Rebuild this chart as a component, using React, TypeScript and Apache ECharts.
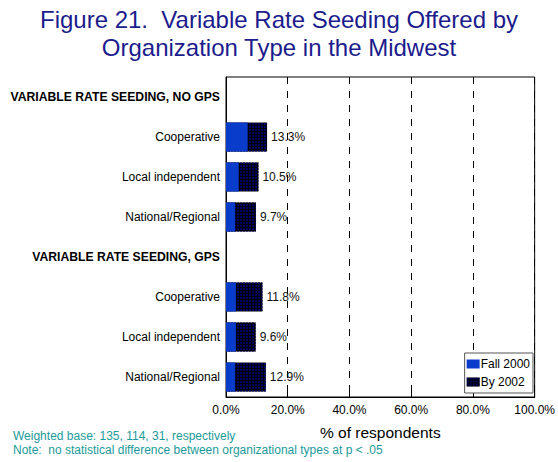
import React, { useEffect, useRef } from "react";
import * as echarts from "echarts";

const categories = [
  "VARIABLE RATE SEEDING, NO GPS",
  "Cooperative",
  "Local independent",
  "National/Regional",
  "VARIABLE RATE SEEDING, GPS",
  "Cooperative ",
  "Local independent ",
  "National/Regional ",
];
const headerRows = [0, 4];
const fall2000 = [null, 7.0, 4.1, 2.9, null, 3.2, 3.2, 2.9];
const by2002 = [null, 13.3, 10.5, 9.7, null, 11.8, 9.6, 12.9];
const xTicks = [0, 20, 40, 60, 80, 100];

const FONT = "'Liberation Sans', Arial, Helvetica, sans-serif";

export default function App() {
  const ref = useRef<HTMLDivElement>(null);
  useEffect(() => {
    document.body.style.margin = "0";
    const chart = echarts.init(ref.current!, null, { renderer: "svg" });
    chart.setOption({
      animation: false,
      textStyle: { fontFamily: FONT },
      title: {
        text: "Figure 21.  Variable Rate Seeding Offered by\nOrganization Type in the Midwest",
        left: "center",
        top: 0,
        textStyle: {
          fontFamily: FONT,
          fontSize: 24,
          fontWeight: "normal",
          color: "#1c1c8c",
          lineHeight: 28,
        },
      },
      legend: {
        data: ["Fall 2000", "By 2002"],
        orient: "vertical",
        right: 25,
        bottom: 69,
        backgroundColor: "#ffffff",
        borderColor: "#555",
        borderWidth: 1,
        borderRadius: 0,
        padding: [5, 3, 5, 2],
        itemWidth: 13,
        itemHeight: 9,
        itemGap: 6,
        icon: "rect",
        textStyle: { fontFamily: FONT, fontSize: 12, color: "#000", padding: [0, 0, 0, -4] },
      },
      grid: {
        left: 226,
        right: 18,
        top: 77,
        bottom: 65,
        show: true,
        borderColor: "#000",
        borderWidth: 1,
        backgroundColor: "transparent",
      },
      xAxis: {
        type: "value",
        min: xTicks[0],
        max: xTicks[xTicks.length - 1],
        interval: 20,
        name: "% of respondents",
        nameLocation: "middle",
        nameGap: 27,
        nameTextStyle: { fontFamily: FONT, fontSize: 15.5, color: "#000" },
        axisLine: { show: true, lineStyle: { color: "#000", width: 1 } },
        axisTick: { show: true, inside: true, length: 5, lineStyle: { color: "#000" } },
        axisLabel: {
          fontFamily: FONT,
          fontSize: 12,
          color: "#000",
          margin: 7,
          formatter: (v: number) => v.toFixed(1) + "%",
        },
        splitLine: { show: true, lineStyle: { color: "#000", type: [7, 7], width: 1 } },
      },
      yAxis: {
        type: "category",
        inverse: true,
        data: categories,
        axisLine: { show: true, lineStyle: { color: "#000" } },
        axisTick: { show: false },
        axisLabel: {
          margin: 6,
          fontFamily: FONT,
          fontSize: 12,
          color: "#000",
          formatter: (v: string, i: number) =>
            headerRows.includes(i) ? "{h|" + v + "}" : v.trim(),
          rich: {
            h: { fontFamily: FONT, fontSize: 12.2, fontWeight: "bold", color: "#000" },
          },
        },
      },
      series: [
        {
          name: "By 2002",
          type: "bar",
          data: by2002,
          barWidth: 29,
          itemStyle: {
            color: "#000000",
            decal: {
              symbol: "rect",
              symbolSize: 1,
              dashArrayX: [2, 1],
              dashArrayY: [2, 1],
              color: "#000066",
              rotation: 0,
            },
          },
          label: {
            show: true,
            position: "right",
            distance: 4,
            fontFamily: FONT,
            fontSize: 12,
            color: "#111",
            formatter: (p: any) => p.value.toFixed(1) + "%",
          },
          z: 2,
        },
        {
          name: "Fall 2000",
          type: "bar",
          data: fall2000,
          barWidth: 29,
          barGap: "-100%",
          itemStyle: { color: "#0a3ccc" },
          z: 3,
        },
      ],
      graphic: [
        {
          type: "text",
          left: 13,
          top: 429,
          style: {
            text: "Weighted base: 135, 114, 31, respectively\nNote:  no statistical difference between organizational types at p < .05",
            fontFamily: FONT,
            fontSize: 12,
            lineHeight: 14,
            fill: "#1a9a9a",
          },
        },
      ],
    });
    return () => chart.dispose();
  }, []);
  return <div ref={ref} style={{ width: 558, height: 462 }} />;
}
